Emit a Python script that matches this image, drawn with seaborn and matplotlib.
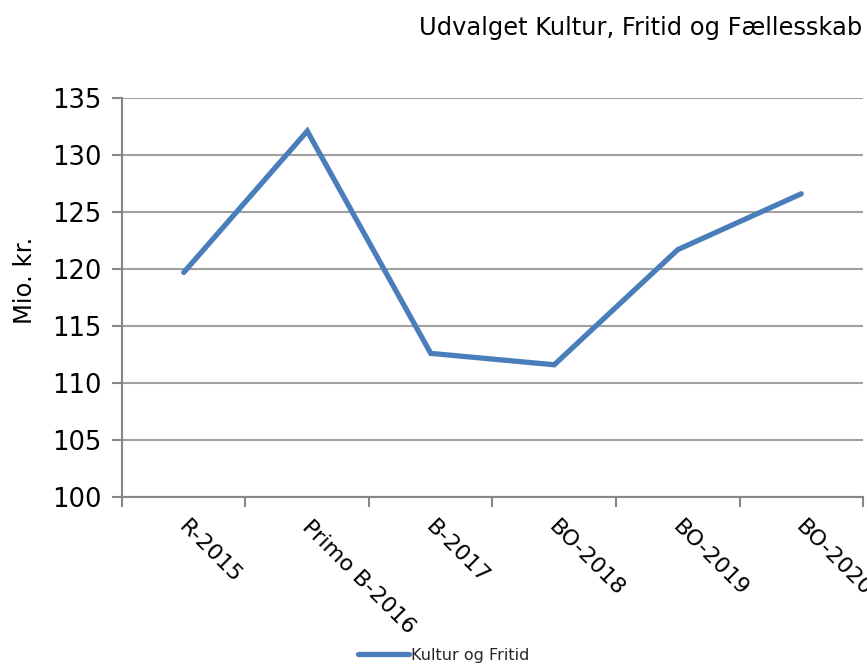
import matplotlib
matplotlib.use("Agg")
import matplotlib.pyplot as plt
from matplotlib.ticker import FixedLocator, NullFormatter
from matplotlib.transforms import ScaledTranslation
import numpy as np
import pandas as pd
import seaborn as sns

# Budget years and amounts (mio. kr.)
categories = ["R-2015", "Primo B-2016", "B-2017", "BO-2018", "BO-2019", "BO-2020"]
values = [119.7, 132.1, 112.6, 111.6, 121.7, 126.6]
series_name = "Kultur og Fritid"
y_ticks = [100, 105, 110, 115, 120, 125, 130, 135]

sns.set_theme(style="white")
plt.rcParams["font.family"] = ["DejaVu Sans"]

df = pd.DataFrame({"Periode": categories, "Beløb": values, "Serie": series_name})

fig = plt.figure(figsize=(8.67, 6.65), dpi=100)
ax = fig.add_axes([0.1407, 0.2526, 0.8547, 0.600])

line_color = "#4A7EBB"
grid_color = "#A0A0A0"
axis_color = "#868686"

sns.lineplot(data=df, x="Periode", y="Beløb", hue="Serie", palette=[line_color],
             linewidth=3.8, sort=False, ax=ax, legend=False)
for ln in ax.lines:
    ln.set_solid_capstyle("round")
    ln.set_solid_joinstyle("miter")

ax.set_ylim(100, 135)
ax.set_xlim(-0.5, len(categories) - 0.5)
ax.set_yticks(y_ticks)
ax.set_yticklabels([str(t) for t in y_ticks], fontsize=18.5, color="#000000")
ax.yaxis.grid(True, color=grid_color, linewidth=1.5)
ax.xaxis.grid(False)
ax.set_axisbelow(True)

# category labels at centres, tick marks at the boundaries
ax.set_xticks(range(len(categories)))
ax.xaxis.set_minor_locator(FixedLocator(np.arange(-0.5, len(categories), 1.0)))
ax.xaxis.set_minor_formatter(NullFormatter())
ax.tick_params(axis="x", which="major", length=0, pad=14)
ax.tick_params(axis="x", which="minor", length=7, width=1.5, color=axis_color,
               direction="out", bottom=True)
ax.tick_params(axis="y", which="major", length=7, width=1.5, color=axis_color,
               direction="out", left=True, pad=8)
ax.set_xticklabels(categories, fontsize=16, rotation=-45, ha="left", va="top",
                   rotation_mode="anchor", color="#000000")
shift = ScaledTranslation(0.05, 0, fig.dpi_scale_trans)
for tick in ax.xaxis.get_major_ticks():
    tick.label1.set_transform(tick.label1.get_transform() + shift)

ax.set_xlabel("")
ax.set_ylabel("Mio. kr.", fontsize=17.5, color="#000000")
ax.yaxis.set_label_coords(-0.115, 0.544)

for side in ["top", "right"]:
    ax.spines[side].set_visible(False)
for side in ["left", "bottom"]:
    ax.spines[side].set_color(axis_color)
    ax.spines[side].set_linewidth(1.5)

fig.text(0.994, 0.958, "Udvalget Kultur, Fritid og Fællesskab", ha="right",
         va="center", fontsize=17.4, color="#000000")

handle = plt.Line2D([], [], color=line_color, linewidth=3.8, solid_capstyle="round")
leg = fig.legend([handle], [series_name], loc="center",
                 frameon=False, handlelength=3.2, handletextpad=0.1,
                 prop={"family": ["Liberation Sans Narrow", "DejaVu Sans"], "size": 11.5})
leg.set_bbox_to_anchor((0.512, 0.015), transform=fig.transFigure)

fig.savefig("out.png", dpi=100, facecolor="white")
